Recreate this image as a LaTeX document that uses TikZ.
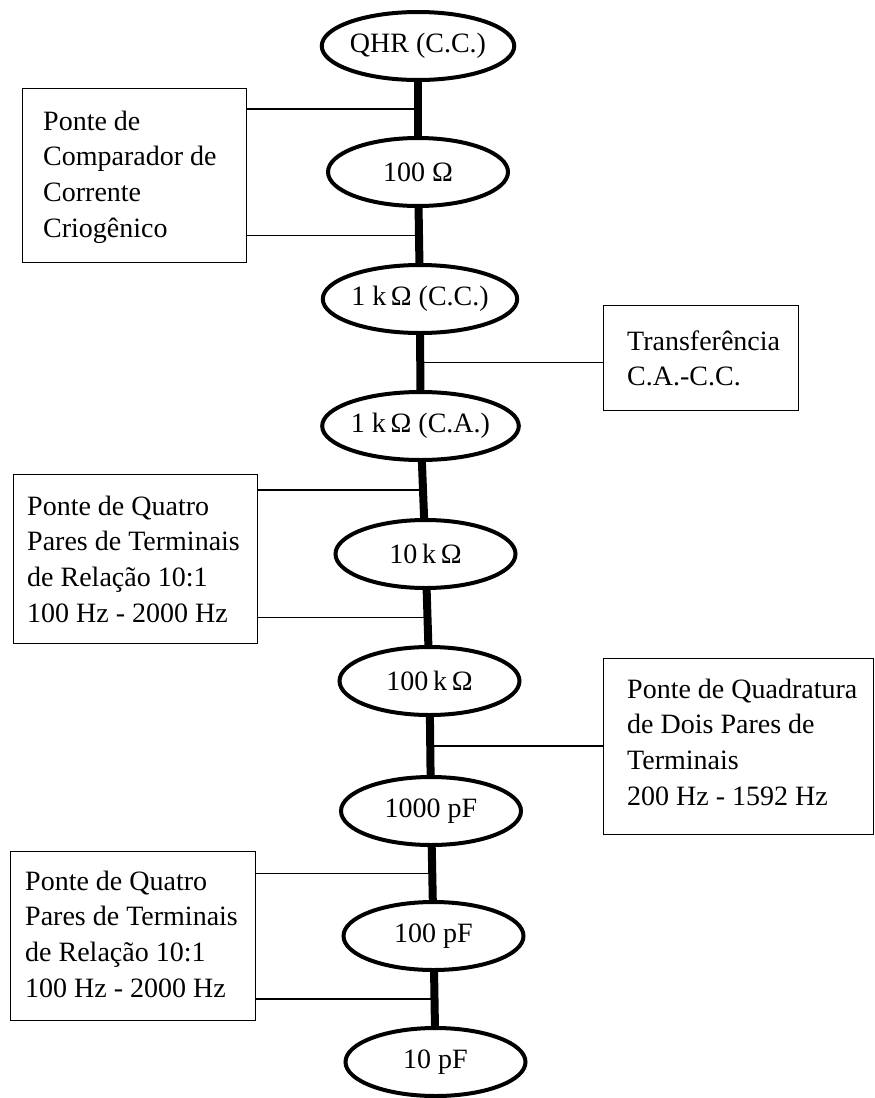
\documentclass[tikz,border=0pt]{standalone}
\usepackage{fontspec}
\setmainfont{Liberation Serif}
\usetikzlibrary{shapes.geometric,calc,backgrounds}

\begin{document}
\begin{tikzpicture}[x=1pt,y=-1pt,
  every node/.style={font=\fontsize{28}{35.7}\selectfont},
  stage/.style={ellipse, draw, line width=4pt, fill=white,
                minimum width=180pt, minimum height=68pt, inner sep=0pt},
  link/.style={line width=8pt},
  tie/.style={line width=1.2pt},
  panel/.style={draw, line width=1.2pt, anchor=north west, inner sep=0pt},
  caption/.style={anchor=north west, inner sep=0pt, align=left},
]
\useasboundingbox (0,0) rectangle (875,1098);

% standards chain
\node[stage] (qhr)   at (418,46)   {QHR (C.C.)};
\node[stage] (r100)  at (418,172)  {100 Ω};
\node[stage] (r1kdc) at (420,299)  {1 k\,Ω (C.C.)};
\node[stage] (r1kac) at (420.5,426){1 k\,Ω (C.A.)};
\node[stage] (r10k)  at (425.5,554){10\,k\,Ω};
\node[stage] (r100k) at (429.5,681){100\,k\,Ω};
\node[stage] (c1000) at (431,811)  {1000 pF};
\node[stage] (c100)  at (433.5,936){100 pF};
\node[stage] (c10)   at (435.5,1062){10 pF};

% thick links between consecutive standards
\begin{scope}[on background layer]
  \draw[link] (qhr) -- (r100);
  \draw[link] (r100) -- (r1kdc);
  \draw[link] (r1kdc) -- (r1kac);
  \draw[link] (r1kac) -- (r10k);
  \draw[link] (r10k) -- (r100k);
  \draw[link] (r100k) -- (c1000);
  \draw[link] (c1000) -- (c100);
  \draw[link] (c100) -- (c10);
\end{scope}

% tapping points midway along each link
\coordinate (m1) at ($(qhr.south)!0.5!(r100.north)$);
\coordinate (m2) at ($(r100.south)!0.5!(r1kdc.north)$);
\coordinate (m3) at ($(r1kdc.south)!0.5!(r1kac.north)$);
\coordinate (m4) at ($(r1kac.south)!0.5!(r10k.north)$);
\coordinate (m5) at ($(r10k.south)!0.5!(r100k.north)$);
\coordinate (m6) at ($(r100k.south)!0.5!(c1000.north)$);
\coordinate (m7) at ($(c1000.south)!0.5!(c100.north)$);
\coordinate (m8) at ($(c100.south)!0.5!(c10.north)$);

% measurement systems
\node[panel, minimum width=224pt, minimum height=174pt] (ccc) at (22,88) {};
\node[caption] (ccc-t) at ([xshift=21pt]ccc.north west)
  {\rule{0pt}{42pt}Ponte de\\Comparador de\\Corrente\\Criogênico};

\node[panel, minimum width=195pt, minimum height=105pt] (acdc) at (603,305) {};
\node[caption] (acdc-t) at ([xshift=24pt]acdc.north west)
  {\rule{0pt}{45pt}Transferência\\C.A.-C.C.};

\node[panel, minimum width=244pt, minimum height=169pt] (fpa) at (13,474) {};
\node[caption] (fpa-t) at ([xshift=14pt]fpa.north west)
  {\rule{0pt}{41pt}Ponte de Quatro\\Pares de Terminais\\de Relação 10:1\\100 Hz - 2000 Hz};

\node[panel, minimum width=270pt, minimum height=176pt] (quad) at (603,658) {};
\node[caption] (quad-t) at ([xshift=24pt]quad.north west)
  {\rule{0pt}{40pt}Ponte de Quadratura\\de Dois Pares de\\Terminais\\200 Hz - 1592 Hz};

\node[panel, minimum width=245pt, minimum height=169pt] (fpb) at (10,851) {};
\node[caption] (fpb-t) at ([xshift=15pt]fpb.north west)
  {\rule{0pt}{39pt}Ponte de Quatro\\Pares de Terminais\\de Relação 10:1\\100 Hz - 2000 Hz};

% thin ties from each system to the links it spans
\draw[tie] (ccc.east |- m1) -- (m1);
\draw[tie] (ccc.east |- m2) -- (m2);
\draw[tie] (acdc.west |- m3) -- (m3);
\draw[tie] (fpa.east |- m4) -- (m4);
\draw[tie] (fpa.east |- m5) -- (m5);
\draw[tie] (quad.west |- m6) -- (m6);
\draw[tie] (fpb.east |- m7) -- (m7);
\draw[tie] (fpb.east |- m8) -- (m8);
\end{tikzpicture}
\end{document}
